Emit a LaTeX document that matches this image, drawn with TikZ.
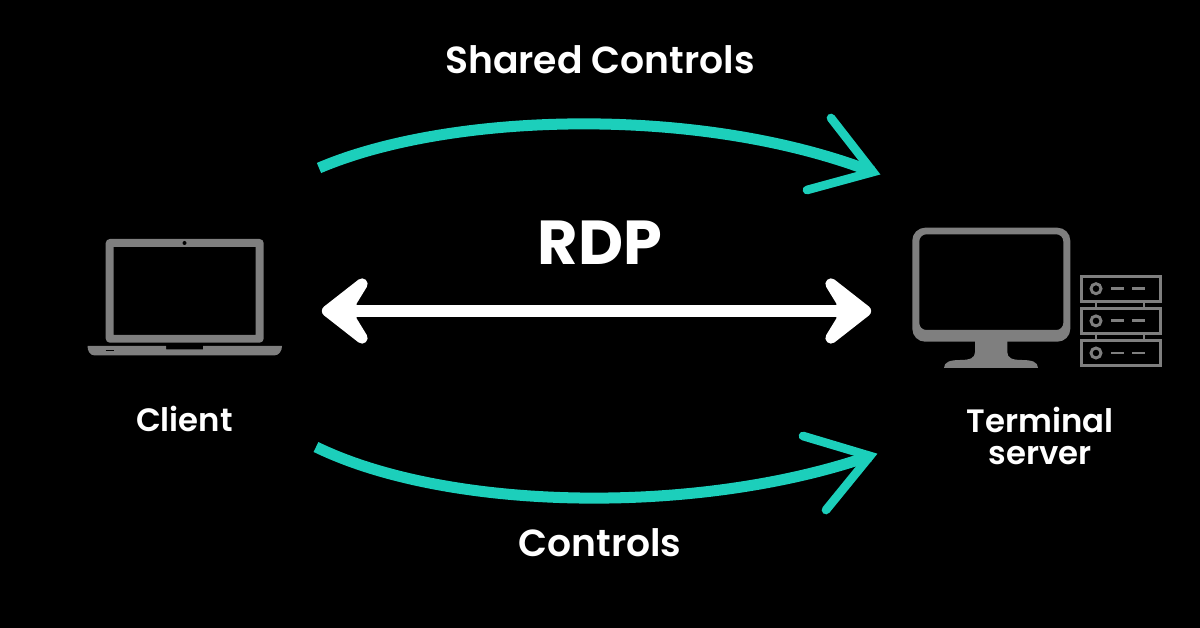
\documentclass[tikz,border=0pt]{standalone}
\usepackage{fontspec}
\setmainfont{Poppins}[UprightFont=* SemiBold,BoldFont=* Bold]
\definecolor{teal1}{HTML}{1CCFBB}
\definecolor{icon}{HTML}{7F7F7F}
\tikzset{
  label/.style={text=white,font=\fontsize{32.2pt}{33pt}\selectfont,align=center,inner sep=0pt},
  small/.style={text=white,font=\fontsize{27.6pt}{28.3pt}\selectfont,align=center,inner sep=0pt},
  flow/.style={draw=teal1,line width=9.4pt,line cap=butt},
  head/.style={draw=teal1,line width=7.4pt,line cap=round,line join=miter},
  both/.style={draw=white,line width=9.6pt},
  bothhead/.style={draw=white,fill=white,line width=9.6pt,line join=round},
  srv/.style={draw=icon,line width=2.5pt},
}
\begin{document}
\begin{tikzpicture}[x=0.03cm,y=-0.03cm]
\fill[black] (0,0) rectangle (1200,628);
\useasboundingbox (0,0) rectangle (1200,628);
% laptop
\fill[icon,rounded corners=3.5pt,even odd rule] (105.7,239) rectangle (263.7,342.7) [sharp corners] (113.5,247) rectangle (255.5,335);
\fill[black] (184.5,243) circle (2);
\fill[icon] (87.5,346) -- (166,346) -- (166,349.5) -- (203,349.5) -- (203,346) -- (282,346) .. controls (282,351) and (279,355.5) .. (274,355.5) -- (95,355.5) .. controls (90,355.5) and (87.5,351) .. (87.5,346) -- cycle;
\draw[black,line width=0.8pt] (105.5,350.5) -- (114,350.5);
% monitor
\fill[icon] (975,340) -- (1007.3,340) -- (1007.3,352) .. controls (1007.3,358) and (1012,360) .. (1022,360) .. controls (1032,360) and (1038,362) .. (1038,368) -- (944,368) .. controls (944,362) and (950,360) .. (960,360) .. controls (970,360) and (975,358) .. (975,352) -- cycle;
\fill[icon,even odd rule] [rounded corners=11pt] (912.3,227.7) rectangle (1070.3,341.7) [rounded corners=6pt] (919.3,234.3) rectangle (1063.3,330);
% servers
\foreach \a/\b/\c in {276.5/301.5/288.7,308.7/333.2/320.9,340.8/365.5/353}{
  \draw[srv] (1081.5,\a) rectangle (1160.2,\b);
  \draw[srv] (1096,\c) circle (5);
  \draw[srv] (1111,\c) -- (1124,\c) (1132,\c) -- (1145,\c);
}
\draw[srv] (1096,301.5) -- (1096,308.7) (1144,301.5) -- (1144,308.7) (1096,333.2) -- (1096,340.8) (1144,333.2) -- (1144,340.8);
% named points
\coordinate (ta) at (319,168);
\coordinate (tb) at (873,172);
\coordinate (ba) at (316,447);
\coordinate (bb) at (870,456);
\coordinate (ma) at (327.5,311);
\coordinate (mb) at (865.5,311);
% curved arrows
\draw[flow] (ta) .. controls (450,112) and (700,105) .. (tb);
\draw[head] (831,118) -- (tb) -- (807,190);
\draw[flow] (ba) .. controls (450,512) and (700,515) .. (bb);
\draw[head] (803,436) -- (bb) -- (826,510);
% double arrow
\draw[both] (ma) -- (mb);
\draw[bothhead] (ma) -- (362,284) -- (351,302) -- (351,320) -- (362,338) -- cycle;
\draw[bothhead] (mb) -- (831,284) -- (842,302) -- (842,320) -- (831,338) -- cycle;
% labels
\node[label] (shared) at (600,60) {Shared Controls};
\node[text=white,inner sep=0pt,font=\bfseries\fontsize{53pt}{54pt}\selectfont] (rdp) at (600,243) {RDP};
\node[label] (controls) at (600,543) {Controls};
\node[small] (client) at (184.5,419) {Client};
\node[small] (term) at (1040,436) {Terminal\\[-1pt]server};
\end{tikzpicture}
\end{document}
